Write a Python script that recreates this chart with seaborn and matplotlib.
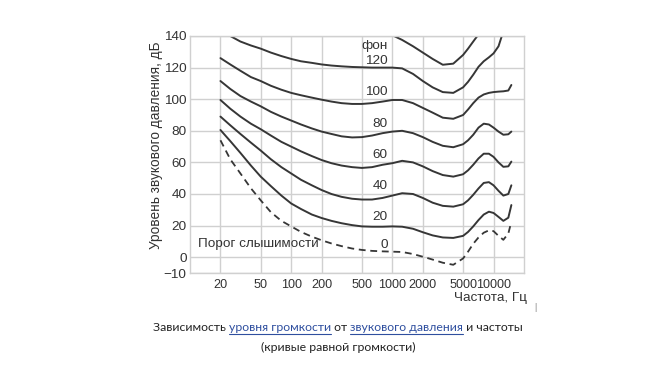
import numpy as np
import pandas as pd
import matplotlib
matplotlib.use("Agg")
import matplotlib.pyplot as plt
import seaborn as sns
from matplotlib.lines import Line2D

nan = np.nan
# ---------------- data ----------------
freq = [20, 25, 31.5, 40, 50, 63, 80, 100, 125, 160, 200, 250, 315, 400, 500,
        630, 800, 1000, 1250, 1600, 2000, 2500, 3150, 4000, 5000, 5600, 6300, 7100,
        8000, 9000, 10000, 11200, 12500, 14000, 15000]

phon_0 = [74, 62, 53, 43.6, 36, 28.5, 23, 19.5, 16, 13, 10.7, 8.7, 7, 5.5, 4.6,
          4, 3.7, 3.5, 3.3, 2, 0.3, -1.5, -3.5, -4.8, -0.8, 3.5, 8.5, 12.5,
          15.5, 17, 16.5, 13.5, 11, 15, 22.5]
phon_20 = [80.5, 73.5, 66, 58, 51, 45, 39, 34, 30.5, 27, 24.8, 23, 21.5, 20.3, 19.5,
           19.3, 19.3, 19.5, 19.3, 18, 15.8, 13.8, 12.5, 12.2, 13.5, 16, 19.5, 23.5,
           27, 28.8, 28, 25.5, 23, 25, 33]
phon_40 = [89, 83.5, 78, 72.5, 67.5, 62, 57, 53, 49, 45.5, 42.5, 40, 38.2, 37, 36.5,
           36.5, 37.5, 39, 40.5, 40, 37.5, 34.5, 32.5, 32, 33.5, 36, 39.5, 43.5,
           47, 47.5, 45.5, 42, 39, 40, 45.5]
phon_60 = [99.5, 94, 89, 84.5, 81, 77, 73, 70, 67, 64, 61.5, 59.5, 58, 57, 56.5,
           57, 58.5, 59.5, 61, 60, 57.5, 54.5, 52, 51, 52.5, 55, 58.5, 62.5,
           65.5, 65.5, 63.5, 60, 57.2, 57.5, 60.5]
phon_80 = [111.5, 106.5, 102, 98.5, 95.5, 92, 89, 86.5, 84, 81.5, 79.5, 78, 76.5, 75.8, 76,
           77, 78.5, 79.5, 80, 78.5, 76, 73, 70.5, 69.6, 71.5, 74, 77.5, 82,
           84.5, 84, 82, 79.5, 77.5, 77.8, 79.5]
phon_100 = [126, 122, 118, 114, 111.5, 108.5, 106, 104, 102.5, 101, 99.7, 98.5, 97.5, 97, 97,
            97.5, 98.5, 99.5, 99.5, 97.5, 94.5, 91.5, 88.3, 87.6, 90, 93.5, 97.5, 101,
            103, 104, 104.5, 104.8, 105, 105.5, 109]
phon_120 = [nan, 140, 136.5, 134, 132, 129.5, 127.3, 125.5, 124, 123, 122, 121.3, 120.8, 120.4, 120.2,
            120, 120, 120, 119.5, 116, 111.5, 107.5, 104.5, 104, 107.5, 111, 115.5, 120.5,
            124, 126.5, 129, 133.5, 143, nan, nan]

freq_140 = [1000, 1250, 1600, 2000, 2500, 3150, 4000, 5000, 5600, 6300, 7100, 8000]
phon_140 = [140.5, 137.5, 133.5, 129.5, 125.5, 121.8, 122.5, 128, 132, 136.5, 141, 147]

x_ticks = [20, 50, 100, 200, 500, 1000, 2000, 5000, 10000]
y_ticks = [140, 120, 100, 80, 60, 40, 20, 0, -10]

curve_labels = ["фон", "120", "100", "80", "60", "40", "20", "0"]
curve_label_y = [133.7, 124.4, 104.7, 84.3, 64.7, 45, 25.3, 7.7]

# ---------------- style ----------------
sns.set_style("white")
plt.rcParams["font.family"] = ["Liberation Sans", "DejaVu Sans"]
TXT = "#333333"
LINE = "#363636"
GRID = "#d0d0d0"

fig = plt.figure(figsize=(6.5, 3.66), dpi=100)
ax = fig.add_axes([190 / 650, 1 - 273 / 366, (524 - 190) / 650, (273 - 36) / 366])

solid = [phon_20, phon_40, phon_60, phon_80, phon_100, phon_120]
for vals in solid:
    df = pd.DataFrame({"f": freq, "L": vals}).dropna()
    sns.lineplot(data=df, x="f", y="L", ax=ax, color=LINE, linewidth=1.4,
                 estimator=None, sort=False)
df140 = pd.DataFrame({"f": freq_140, "L": phon_140})
sns.lineplot(data=df140, x="f", y="L", ax=ax, color=LINE, linewidth=1.4,
             estimator=None, sort=False)
df0 = pd.DataFrame({"f": freq, "L": phon_0})
sns.lineplot(data=df0, x="f", y="L", ax=ax, color=LINE, linewidth=1.3,
             estimator=None, sort=False, linestyle=(0, (3.8, 2.6)))

ax.set_xscale("log")
ax.set_xlim(10, 20000)
ax.set_ylim(-10, 140)
ax.set_xticks(x_ticks)
ax.set_xticklabels([str(v) for v in x_ticks])
ax.xaxis.set_minor_locator(matplotlib.ticker.NullLocator())
ax.set_yticks(y_ticks)
ax.set_yticklabels([str(v).replace("-", "\u2212") for v in y_ticks])
ax.grid(True, color=GRID, linewidth=1.0)
ax.set_axisbelow(True)
for s in ax.spines.values():
    s.set_color(GRID)
    s.set_linewidth(1.0)
ax.tick_params(axis="both", length=0, labelcolor=TXT)
ax.tick_params(axis="y", pad=2.5, labelsize=9.7)
ax.tick_params(axis="x", pad=4, labelsize=9.1)

ax.set_ylabel("Уровень звукового давления, дБ", fontsize=9.8, color=TXT)
ax.yaxis.set_label_coords(-0.081, 0.54)
ax.set_xlabel("Частота, Гц", fontsize=9.7, color=TXT, ha="right", va="center")
ax.xaxis.set_label_coords(1.009, -0.105)

for t, y in zip(curve_labels, curve_label_y):
    ax.text(900, y, t, ha="right", va="center", fontsize=9.7, color=TXT)
ax.text(11.9, 8.2, "Порог слышимости", ha="left", va="center", fontsize=9.7, color=TXT)

# ---------------- caption ----------------
renderer = fig.canvas.get_renderer()
cap_kw = dict(fontsize=8.8, family=["Lato", "DejaVu Sans"])
BLUE = "#2f4f9f"
pieces = [("Зависимость ", "#222222", False), ("уровня громкости", BLUE, True),
          (" от ", "#222222", False), ("звукового давления", BLUE, True),
          (" и частоты", "#222222", False)]


def text_w(s):
    t = fig.text(0, 0, s, **cap_kw)
    w = t.get_window_extent(renderer).width
    t.remove()
    return w


full = "".join(p[0] for p in pieces)
W = text_w(full)
x_left_px = 338 - W / 2
y1 = 1 - 331 / 366
wx = text_w("x")
prefix = ""
for s, col, ul in pieces:
    off = text_w(prefix + "x") - wx if prefix else 0
    x0 = x_left_px + off
    fig.text(x0 / 650, y1, s, color=col, ha="left", va="baseline", **cap_kw)
    if ul:
        w = text_w(s)
        fig.add_artist(Line2D([x0 / 650, (x0 + w) / 650], [y1 - 2.5 / 366, y1 - 2.5 / 366],
                              transform=fig.transFigure, color=BLUE, linewidth=0.8))
    prefix += s

fig.text(338 / 650, 1 - 347 / 366, "(кривые равной громкости)", ha="center", va="center",
         color="#222222", **cap_kw)
fig.text(535 / 650, 1 - 307 / 366, "|", ha="center", va="center", fontsize=6.5, color="#888888")

fig.savefig("out.png", dpi=100, facecolor="white")
